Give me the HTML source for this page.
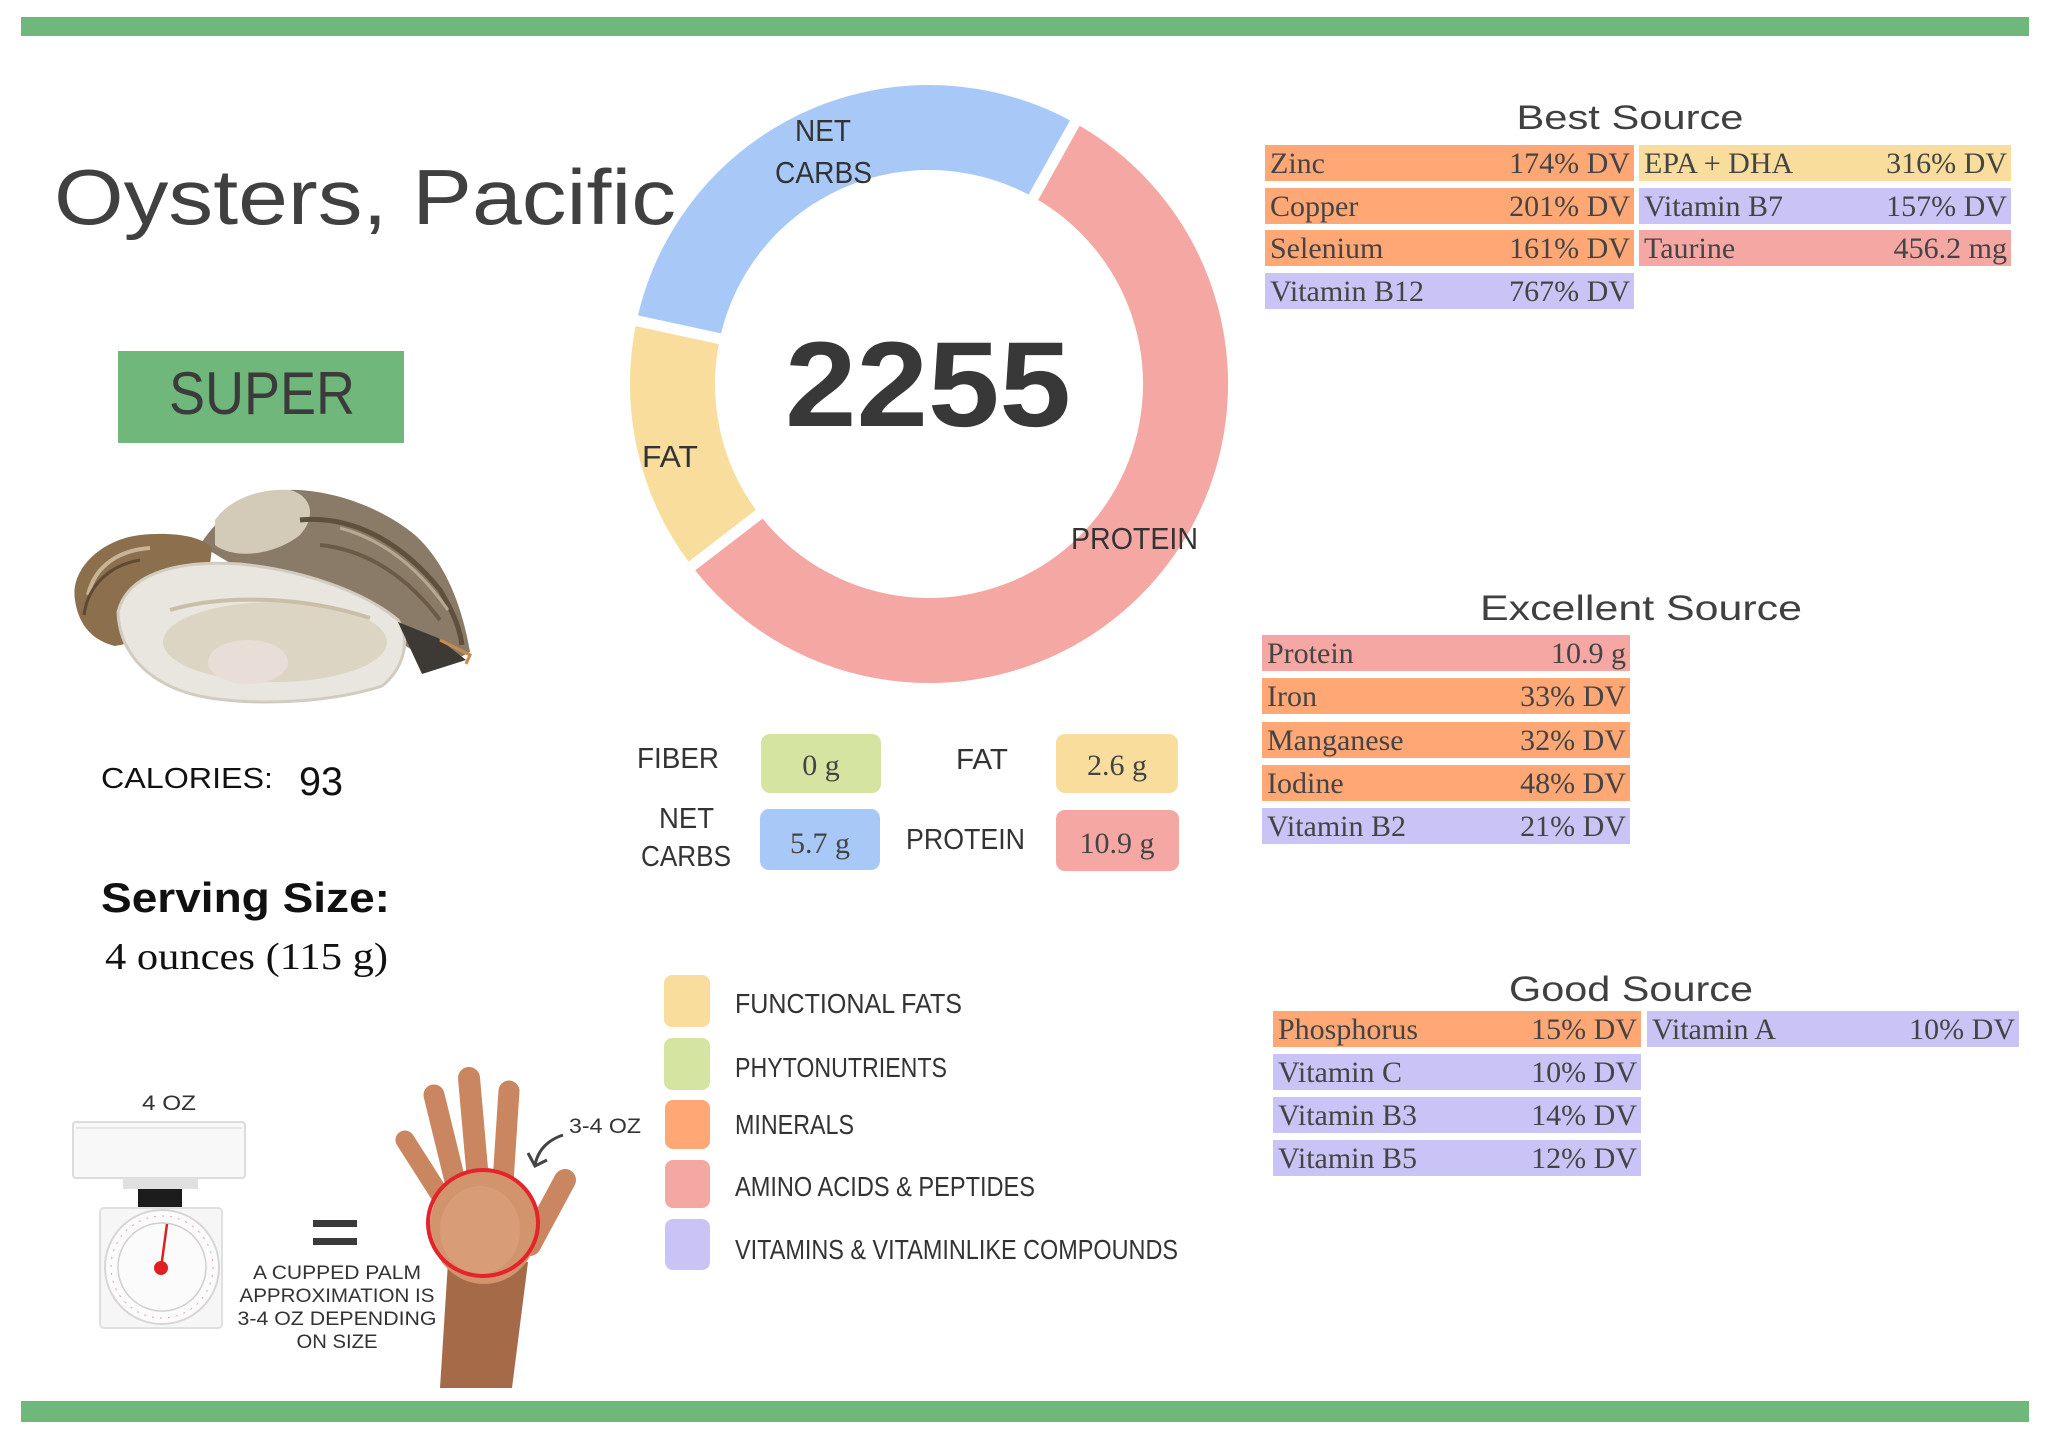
<!DOCTYPE html>
<html>
<head>
<meta charset="utf-8">
<style>
html,body{margin:0;padding:0;background:#fff;}
svg{display:block;}
.hw{font-family:"Liberation Sans",sans-serif;fill:#333;}
.sf{font-family:"Liberation Serif",serif;fill:#444;}
</style>
</head>
<body>
<svg width="2048" height="1441" viewBox="0 0 2048 1441" xmlns="http://www.w3.org/2000/svg">
<rect width="2048" height="1441" fill="#fff"/>
<!-- green bars -->
<rect x="21" y="17" width="2008" height="19" fill="#70b77b"/>
<rect x="21" y="1401" width="2008" height="21" fill="#70b77b"/>

<!-- Title -->
<text x="54" y="224" font-family="Liberation Sans, sans-serif" font-size="78" fill="#404040" textLength="622" lengthAdjust="spacingAndGlyphs">Oysters, Pacific</text>

<!-- SUPER -->
<rect x="118" y="351" width="286" height="92" fill="#70b77b"/>
<text x="169" y="414" font-family="Liberation Sans, sans-serif" font-size="60" fill="#3b3b3b" textLength="186" lengthAdjust="spacingAndGlyphs">SUPER</text>

<!-- Oyster drawing -->
<g>
  <path d="M 200,545 C 225,505 265,488 298,490 C 340,492 385,510 415,535 C 445,562 462,605 470,652 L 440,668 C 400,642 330,595 250,575 Z" fill="#8a7b68"/>
  <path d="M 215,520 C 230,498 262,488 290,490 C 310,495 318,515 300,535 C 275,555 235,560 215,545 Z" fill="#d4cab8"/>
  <path d="M 300,520 C 350,515 400,540 440,590 C 455,615 460,630 462,645" stroke="#5f4f3d" stroke-width="5" fill="none"/>
  <path d="M 320,545 C 370,550 410,580 440,620" stroke="#6b5a45" stroke-width="4" fill="none"/>
  <path d="M 340,528 C 385,540 420,570 448,610" stroke="#b7a891" stroke-width="3" fill="none"/>
  <path d="M 75,600 C 70,570 100,540 140,535 C 170,532 200,535 212,548 L 205,605 C 172,625 142,642 115,646 C 90,640 78,622 75,600 Z" fill="#8c6f4d"/>
  <path d="M 88,595 C 95,565 120,550 150,548" stroke="#c8b494" stroke-width="4" fill="none"/>
  <path d="M 84,615 C 88,585 110,565 140,560" stroke="#5e4a33" stroke-width="3" fill="none"/>
  <path d="M 118,612 C 128,572 180,560 240,564 C 300,570 362,590 398,620 C 412,642 402,670 382,686 C 332,702 262,706 210,698 C 160,690 120,662 118,612 Z" fill="#e9e6df" stroke="#d2ccc0" stroke-width="3"/>
  <ellipse cx="275" cy="642" rx="112" ry="40" fill="#ddd5c4"/>
  <path d="M 170,610 C 220,595 300,595 370,618" stroke="#c9bfa9" stroke-width="4" fill="none"/>
  <ellipse cx="248" cy="662" rx="40" ry="22" fill="#e9ddd8"/>
  <path d="M 398,622 L 438,638 L 466,660 L 422,674 Z" fill="#3d3a36"/>
  <path d="M 440,640 L 470,655 L 466,664" stroke="#c98a4a" stroke-width="3" fill="none"/>
</g>

<!-- Calories / serving -->
<text x="101" y="788" font-family="Liberation Sans, sans-serif" font-size="29" fill="#111" textLength="172" lengthAdjust="spacingAndGlyphs">CALORIES:</text>
<text x="299" y="795" font-family="Liberation Sans, sans-serif" font-size="40" fill="#111" textLength="44" lengthAdjust="spacingAndGlyphs">93</text>
<text x="101" y="912" font-family="Liberation Sans, sans-serif" font-weight="bold" font-size="42" fill="#111" textLength="289" lengthAdjust="spacingAndGlyphs">Serving Size:</text>
<text x="105" y="969" font-family="Liberation Serif, serif" font-size="38" fill="#111" textLength="283" lengthAdjust="spacingAndGlyphs">4 ounces (115 g)</text>

<!-- Donut -->
<g transform="translate(929,384)">
  <circle r="256.5" fill="none" stroke="#f4a7a3" stroke-width="85" stroke-dasharray="910.1 1611.6" transform="rotate(-60.8)"/>
  <circle r="256.5" fill="none" stroke="#f9dd9c" stroke-width="85" stroke-dasharray="222.5 1611.6" transform="rotate(142.5)"/>
  <circle r="256.5" fill="none" stroke="#a8c9f7" stroke-width="85" stroke-dasharray="479 1611.6" transform="rotate(192.2)"/>
  <line x1="0" y1="-205" x2="0" y2="-308" stroke="#fff" stroke-width="11" transform="rotate(29.2)"/>
  <line x1="0" y1="-205" x2="0" y2="-308" stroke="#fff" stroke-width="11" transform="rotate(232.5)"/>
  <line x1="0" y1="-205" x2="0" y2="-308" stroke="#fff" stroke-width="11" transform="rotate(282.2)"/>
</g>
<text x="785" y="426" font-family="Liberation Sans, sans-serif" font-weight="bold" font-size="121" fill="#383838" textLength="286" lengthAdjust="spacingAndGlyphs">2255</text>
<text class="hw" x="795" y="141" font-size="31" textLength="56" lengthAdjust="spacingAndGlyphs">NET</text>
<text class="hw" x="775" y="183" font-size="31" textLength="97" lengthAdjust="spacingAndGlyphs">CARBS</text>
<text class="hw" x="642" y="467" font-size="31" textLength="56" lengthAdjust="spacingAndGlyphs">FAT</text>
<text class="hw" x="1071" y="549" font-size="31" textLength="127" lengthAdjust="spacingAndGlyphs">PROTEIN</text>

<!-- Macro boxes -->
<text class="hw" x="637" y="768" font-size="29" textLength="82" lengthAdjust="spacingAndGlyphs">FIBER</text>
<rect x="761" y="734" width="120" height="59" rx="9" fill="#d5e5a1"/>
<text class="sf" x="821" y="775" font-size="30" text-anchor="middle" fill="#333">0 g</text>
<text class="hw" x="956" y="769" font-size="29" textLength="52" lengthAdjust="spacingAndGlyphs">FAT</text>
<rect x="1056" y="734" width="122" height="59" rx="9" fill="#f9dd9c"/>
<text class="sf" x="1117" y="775" font-size="30" text-anchor="middle" fill="#333">2.6 g</text>
<text class="hw" x="659" y="828" font-size="29" textLength="55" lengthAdjust="spacingAndGlyphs">NET</text>
<text class="hw" x="641" y="866" font-size="29" textLength="90" lengthAdjust="spacingAndGlyphs">CARBS</text>
<rect x="760" y="809" width="120" height="61" rx="9" fill="#a8c9f7"/>
<text class="sf" x="820" y="853" font-size="30" text-anchor="middle" fill="#333">5.7 g</text>
<text class="hw" x="906" y="849" font-size="29" textLength="119" lengthAdjust="spacingAndGlyphs">PROTEIN</text>
<rect x="1056" y="810" width="123" height="61" rx="9" fill="#f4a7a3"/>
<text class="sf" x="1117" y="853" font-size="30" text-anchor="middle" fill="#333">10.9 g</text>

<!-- Legend -->
<rect x="664" y="975" width="46" height="52" rx="8" fill="#f9dd9c"/>
<rect x="664" y="1038" width="46" height="52" rx="8" fill="#d5e5a1"/>
<rect x="665" y="1100" width="45" height="49" rx="8" fill="#ffa775"/>
<rect x="665" y="1160" width="45" height="48" rx="8" fill="#f4a7a3"/>
<rect x="665" y="1219" width="45" height="51" rx="8" fill="#cac3f6"/>
<text class="hw" x="735" y="1013" font-size="28" textLength="227" lengthAdjust="spacingAndGlyphs">FUNCTIONAL  FATS</text>
<text class="hw" x="735" y="1077" font-size="28" textLength="212" lengthAdjust="spacingAndGlyphs">PHYTONUTRIENTS</text>
<text class="hw" x="735" y="1134" font-size="28" textLength="119" lengthAdjust="spacingAndGlyphs">MINERALS</text>
<text class="hw" x="735" y="1196" font-size="28" textLength="300" lengthAdjust="spacingAndGlyphs">AMINO ACIDS &amp; PEPTIDES</text>
<text class="hw" x="735" y="1259" font-size="28" textLength="443" lengthAdjust="spacingAndGlyphs">VITAMINS &amp; VITAMINLIKE COMPOUNDS</text>

<!-- Scale illustration -->
<text class="hw" x="142" y="1110" font-size="21" textLength="54" lengthAdjust="spacingAndGlyphs">4 OZ</text>
<rect x="73" y="1122" width="172" height="56" rx="3" fill="#f8f8f8" stroke="#dcdcdc" stroke-width="2"/>
<line x1="76" y1="1128" x2="242" y2="1128" stroke="#e6e6e6" stroke-width="2"/>
<rect x="123" y="1178" width="75" height="11" fill="#e0e0e0"/>
<rect x="138" y="1189" width="44" height="19" fill="#1c1c1c"/>
<rect x="100" y="1208" width="122" height="120" rx="4" fill="#f6f6f6" stroke="#e0e0e0" stroke-width="2"/>
<circle cx="162" cy="1267" r="57" fill="#fbfbfb" stroke="#d6d6d6" stroke-width="2"/>
<circle cx="162" cy="1267" r="44" fill="none" stroke="#cfcfcf" stroke-width="1.5"/>
<circle cx="162" cy="1267" r="51" fill="none" stroke="#e6a0a0" stroke-width="1" stroke-dasharray="2 6"/>
<line x1="161" y1="1268" x2="167" y2="1224" stroke="#e02020" stroke-width="2.5"/>
<circle cx="161" cy="1268" r="7" fill="#e02020"/>

<!-- equals -->
<rect x="313" y="1220" width="44" height="7" fill="#3a3a3a"/>
<rect x="313" y="1238" width="44" height="7" fill="#3a3a3a"/>
<text class="hw" x="337" y="1279" font-size="19" text-anchor="middle" textLength="168" lengthAdjust="spacingAndGlyphs">A CUPPED PALM</text>
<text class="hw" x="337" y="1302" font-size="19" text-anchor="middle" textLength="195" lengthAdjust="spacingAndGlyphs">APPROXIMATION IS</text>
<text class="hw" x="337" y="1325" font-size="19" text-anchor="middle" textLength="199" lengthAdjust="spacingAndGlyphs">3-4 OZ DEPENDING</text>
<text class="hw" x="337" y="1348" font-size="19" text-anchor="middle" textLength="81" lengthAdjust="spacingAndGlyphs">ON SIZE</text>

<!-- Hand -->
<g>
  <polygon points="448,1262 528,1262 512,1388 440,1388" fill="#a56a47"/>
  <g stroke="#c98660" stroke-linecap="round" fill="none">
    <line x1="405" y1="1140" x2="442" y2="1198" stroke-width="19"/>
    <line x1="434" y1="1095" x2="456" y2="1185" stroke-width="21"/>
    <line x1="469" y1="1078" x2="478" y2="1180" stroke-width="22"/>
    <line x1="509" y1="1091" x2="503" y2="1182" stroke-width="21"/>
    <line x1="565" y1="1180" x2="530" y2="1245" stroke-width="22"/>
  </g>
  <ellipse cx="484" cy="1226" rx="54" ry="58" fill="#d2946d"/>
  <ellipse cx="480" cy="1230" rx="40" ry="44" fill="#d89c77"/>
  <ellipse cx="483" cy="1223" rx="55" ry="53" fill="none" stroke="#e3242b" stroke-width="4"/>
</g>
<path d="M 563,1135 C 548,1140 538,1150 535,1165" stroke="#444" stroke-width="3" fill="none"/>
<path d="M 528,1153 L 535,1166 L 547,1160" stroke="#444" stroke-width="3" fill="none"/>
<text class="hw" x="569" y="1133" font-size="21" textLength="72" lengthAdjust="spacingAndGlyphs">3-4 OZ</text>

<!-- Best Source -->
<text x="1630" y="129" font-family="Liberation Sans, sans-serif" font-size="34" fill="#404040" text-anchor="middle" textLength="227" lengthAdjust="spacingAndGlyphs">Best Source</text>
<g font-family="Liberation Serif, serif" font-size="30" fill="#444">
  <rect x="1265" y="145" width="369" height="36" fill="#ffa775"/>
  <text x="1270" y="173">Zinc</text><text x="1630" y="173" text-anchor="end">174% DV</text>
  <rect x="1639" y="145" width="372" height="36" fill="#f9dd9c"/>
  <text x="1644" y="173">EPA + DHA</text><text x="2007" y="173" text-anchor="end">316% DV</text>

  <rect x="1265" y="188" width="369" height="36" fill="#ffa775"/>
  <text x="1270" y="216">Copper</text><text x="1630" y="216" text-anchor="end">201% DV</text>
  <rect x="1639" y="188" width="372" height="36" fill="#cac3f6"/>
  <text x="1644" y="216">Vitamin B7</text><text x="2007" y="216" text-anchor="end">157% DV</text>

  <rect x="1265" y="230" width="369" height="36" fill="#ffa775"/>
  <text x="1270" y="258">Selenium</text><text x="1630" y="258" text-anchor="end">161% DV</text>
  <rect x="1639" y="230" width="372" height="36" fill="#f4a7a3"/>
  <text x="1644" y="258">Taurine</text><text x="2007" y="258" text-anchor="end">456.2 mg</text>

  <rect x="1265" y="273" width="369" height="36" fill="#cac3f6"/>
  <text x="1270" y="301">Vitamin B12</text><text x="1630" y="301" text-anchor="end">767% DV</text>
</g>

<!-- Excellent Source -->
<text x="1641" y="620" font-family="Liberation Sans, sans-serif" font-size="35" fill="#404040" text-anchor="middle" textLength="322" lengthAdjust="spacingAndGlyphs">Excellent Source</text>
<g font-family="Liberation Serif, serif" font-size="30" fill="#444">
  <rect x="1262" y="635" width="368" height="36" fill="#f4a7a3"/>
  <text x="1267" y="663">Protein</text><text x="1626" y="663" text-anchor="end">10.9 g</text>
  <rect x="1262" y="678" width="368" height="36" fill="#ffa775"/>
  <text x="1267" y="706">Iron</text><text x="1626" y="706" text-anchor="end">33% DV</text>
  <rect x="1262" y="722" width="368" height="36" fill="#ffa775"/>
  <text x="1267" y="750">Manganese</text><text x="1626" y="750" text-anchor="end">32% DV</text>
  <rect x="1262" y="765" width="368" height="36" fill="#ffa775"/>
  <text x="1267" y="793">Iodine</text><text x="1626" y="793" text-anchor="end">48% DV</text>
  <rect x="1262" y="808" width="368" height="36" fill="#cac3f6"/>
  <text x="1267" y="836">Vitamin B2</text><text x="1626" y="836" text-anchor="end">21% DV</text>
</g>

<!-- Good Source -->
<text x="1631" y="1001" font-family="Liberation Sans, sans-serif" font-size="35" fill="#404040" text-anchor="middle" textLength="244" lengthAdjust="spacingAndGlyphs">Good Source</text>
<g font-family="Liberation Serif, serif" font-size="30" fill="#444">
  <rect x="1273" y="1011" width="368" height="36" fill="#ffa775"/>
  <text x="1278" y="1039">Phosphorus</text><text x="1637" y="1039" text-anchor="end">15% DV</text>
  <rect x="1647" y="1011" width="372" height="36" fill="#cac3f6"/>
  <text x="1652" y="1039">Vitamin A</text><text x="2015" y="1039" text-anchor="end">10% DV</text>
  <rect x="1273" y="1054" width="368" height="36" fill="#cac3f6"/>
  <text x="1278" y="1082">Vitamin C</text><text x="1637" y="1082" text-anchor="end">10% DV</text>
  <rect x="1273" y="1097" width="368" height="36" fill="#cac3f6"/>
  <text x="1278" y="1125">Vitamin B3</text><text x="1637" y="1125" text-anchor="end">14% DV</text>
  <rect x="1273" y="1140" width="368" height="36" fill="#cac3f6"/>
  <text x="1278" y="1168">Vitamin B5</text><text x="1637" y="1168" text-anchor="end">12% DV</text>
</g>
</svg>
</body>
</html>
